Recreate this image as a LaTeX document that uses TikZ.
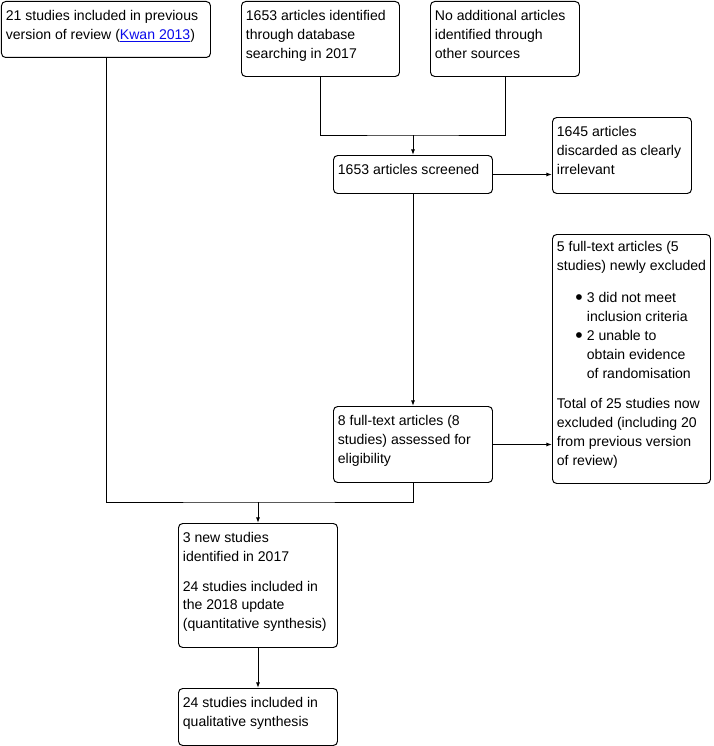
\documentclass[tikz,border=0pt]{standalone}
\usepackage{fontspec}
\setmainfont{Liberation Sans}
\usepackage{xcolor}
\usetikzlibrary{arrows.meta,calc}

\definecolor{linkblue}{RGB}{10,10,235}

% text block of a flow box: width, height, text set from the top
\newcommand{\boxtext}[3]{\parbox[c][#2][t]{#1}{\raggedright #3}}
\newcommand{\reflink}[1]{\textcolor{linkblue}{\underline{#1}}}
\newcommand{\bulitem}{\noindent\llap{\raisebox{-1.5pt}{\fontsize{15}{15}\selectfont\textbullet}\hspace{3pt}}}

\begin{document}
\begin{tikzpicture}[
   every node/.style={font=\fontsize{10}{13.5}\selectfont},
   box/.style={draw,line width=0.7pt,rounded corners=3pt,anchor=north west,
               inner xsep=0.11cm,inner ysep=0.21cm},
   link/.style={line width=0.7pt},
   flow/.style={line width=0.7pt,-{Latex[length=1.4mm,width=1.0mm]}}
]
\useasboundingbox (0,0) rectangle (17.825,-18.65);

% =========== Identification ============
\node[box] (prev) at (0.025,-0.025)
   {\boxtext{5.005cm}{0.98cm}{21 studies included in previous\\
    version of review (\reflink{Kwan 2013})}};
\node[box] (dbase) at (6.025,-0.025)
   {\boxtext{3.73cm}{1.455cm}{1653 articles identified\\through database\\searching in 2017}};
\node[box] (other) at (10.75,-0.025)
   {\boxtext{3.505cm}{1.455cm}{No additional articles\\identified through\\other sources}};

% =========== Screening ============
\node[box] (screen) at (8.325,-3.875)
   {\boxtext{3.755cm}{0.53cm}{1653 articles screened}};
\node[box] (discard) at (13.8,-2.925)
   {\boxtext{3.255cm}{1.48cm}{1645 articles\\discarded as clearly\\irrelevant}};

% =========== Eligibility ============
\node[box] (fulltext) at (8.325,-10.15)
   {\boxtext{3.755cm}{1.48cm}{8 full-text articles (8\\studies) assessed for\\eligibility}};
\node[box] (excl) at (13.8,-5.85)
   {\boxtext{3.73cm}{5.805cm}{\vspace{-1pt}5 full-text articles (5\\studies) newly excluded\par
    \vspace{9pt}
    {\leftskip=0.75cm
     \bulitem 3 did not meet\\inclusion criteria\par
     \bulitem 2 unable to\\obtain evidence\\of randomisation\par}
    \vspace{7.8pt}
    Total of 25 studies now\\excluded (including 20\\from previous version\\of review)}};

% =========== Included ============
\node[box] (incl) at (4.45,-13.075)
   {\boxtext{3.755cm}{2.68cm}{3 new studies\\identified in 2017\par
    \vspace{7.8pt}
    24 studies included in\\the 2018 update\\(quantitative synthesis)}};
\node[box] (qual) at (4.45,-17.2)
   {\boxtext{3.755cm}{1.005cm}{24 studies included in\\qualitative synthesis}};

% connectors
\coordinate (merge) at (screen.north |- 0,-3.375);
\draw[link] (dbase.south) |- (merge) -| (other.south);
\draw[flow] (merge) -- (screen.north);
\draw[flow] (screen.east) -- (screen.east -| discard.west);
\draw[flow] (screen.south) -- (fulltext.north);
\draw[flow] (fulltext.east) -- (fulltext.east -| excl.west);

\coordinate (join) at (incl.north |- 0,-12.55);
\draw[link] (prev.south) |- (join) -| (fulltext.south);
\draw[flow] (join) -- (incl.north);
\draw[flow] (incl.south) -- (qual.north);

\end{tikzpicture}
\end{document}
